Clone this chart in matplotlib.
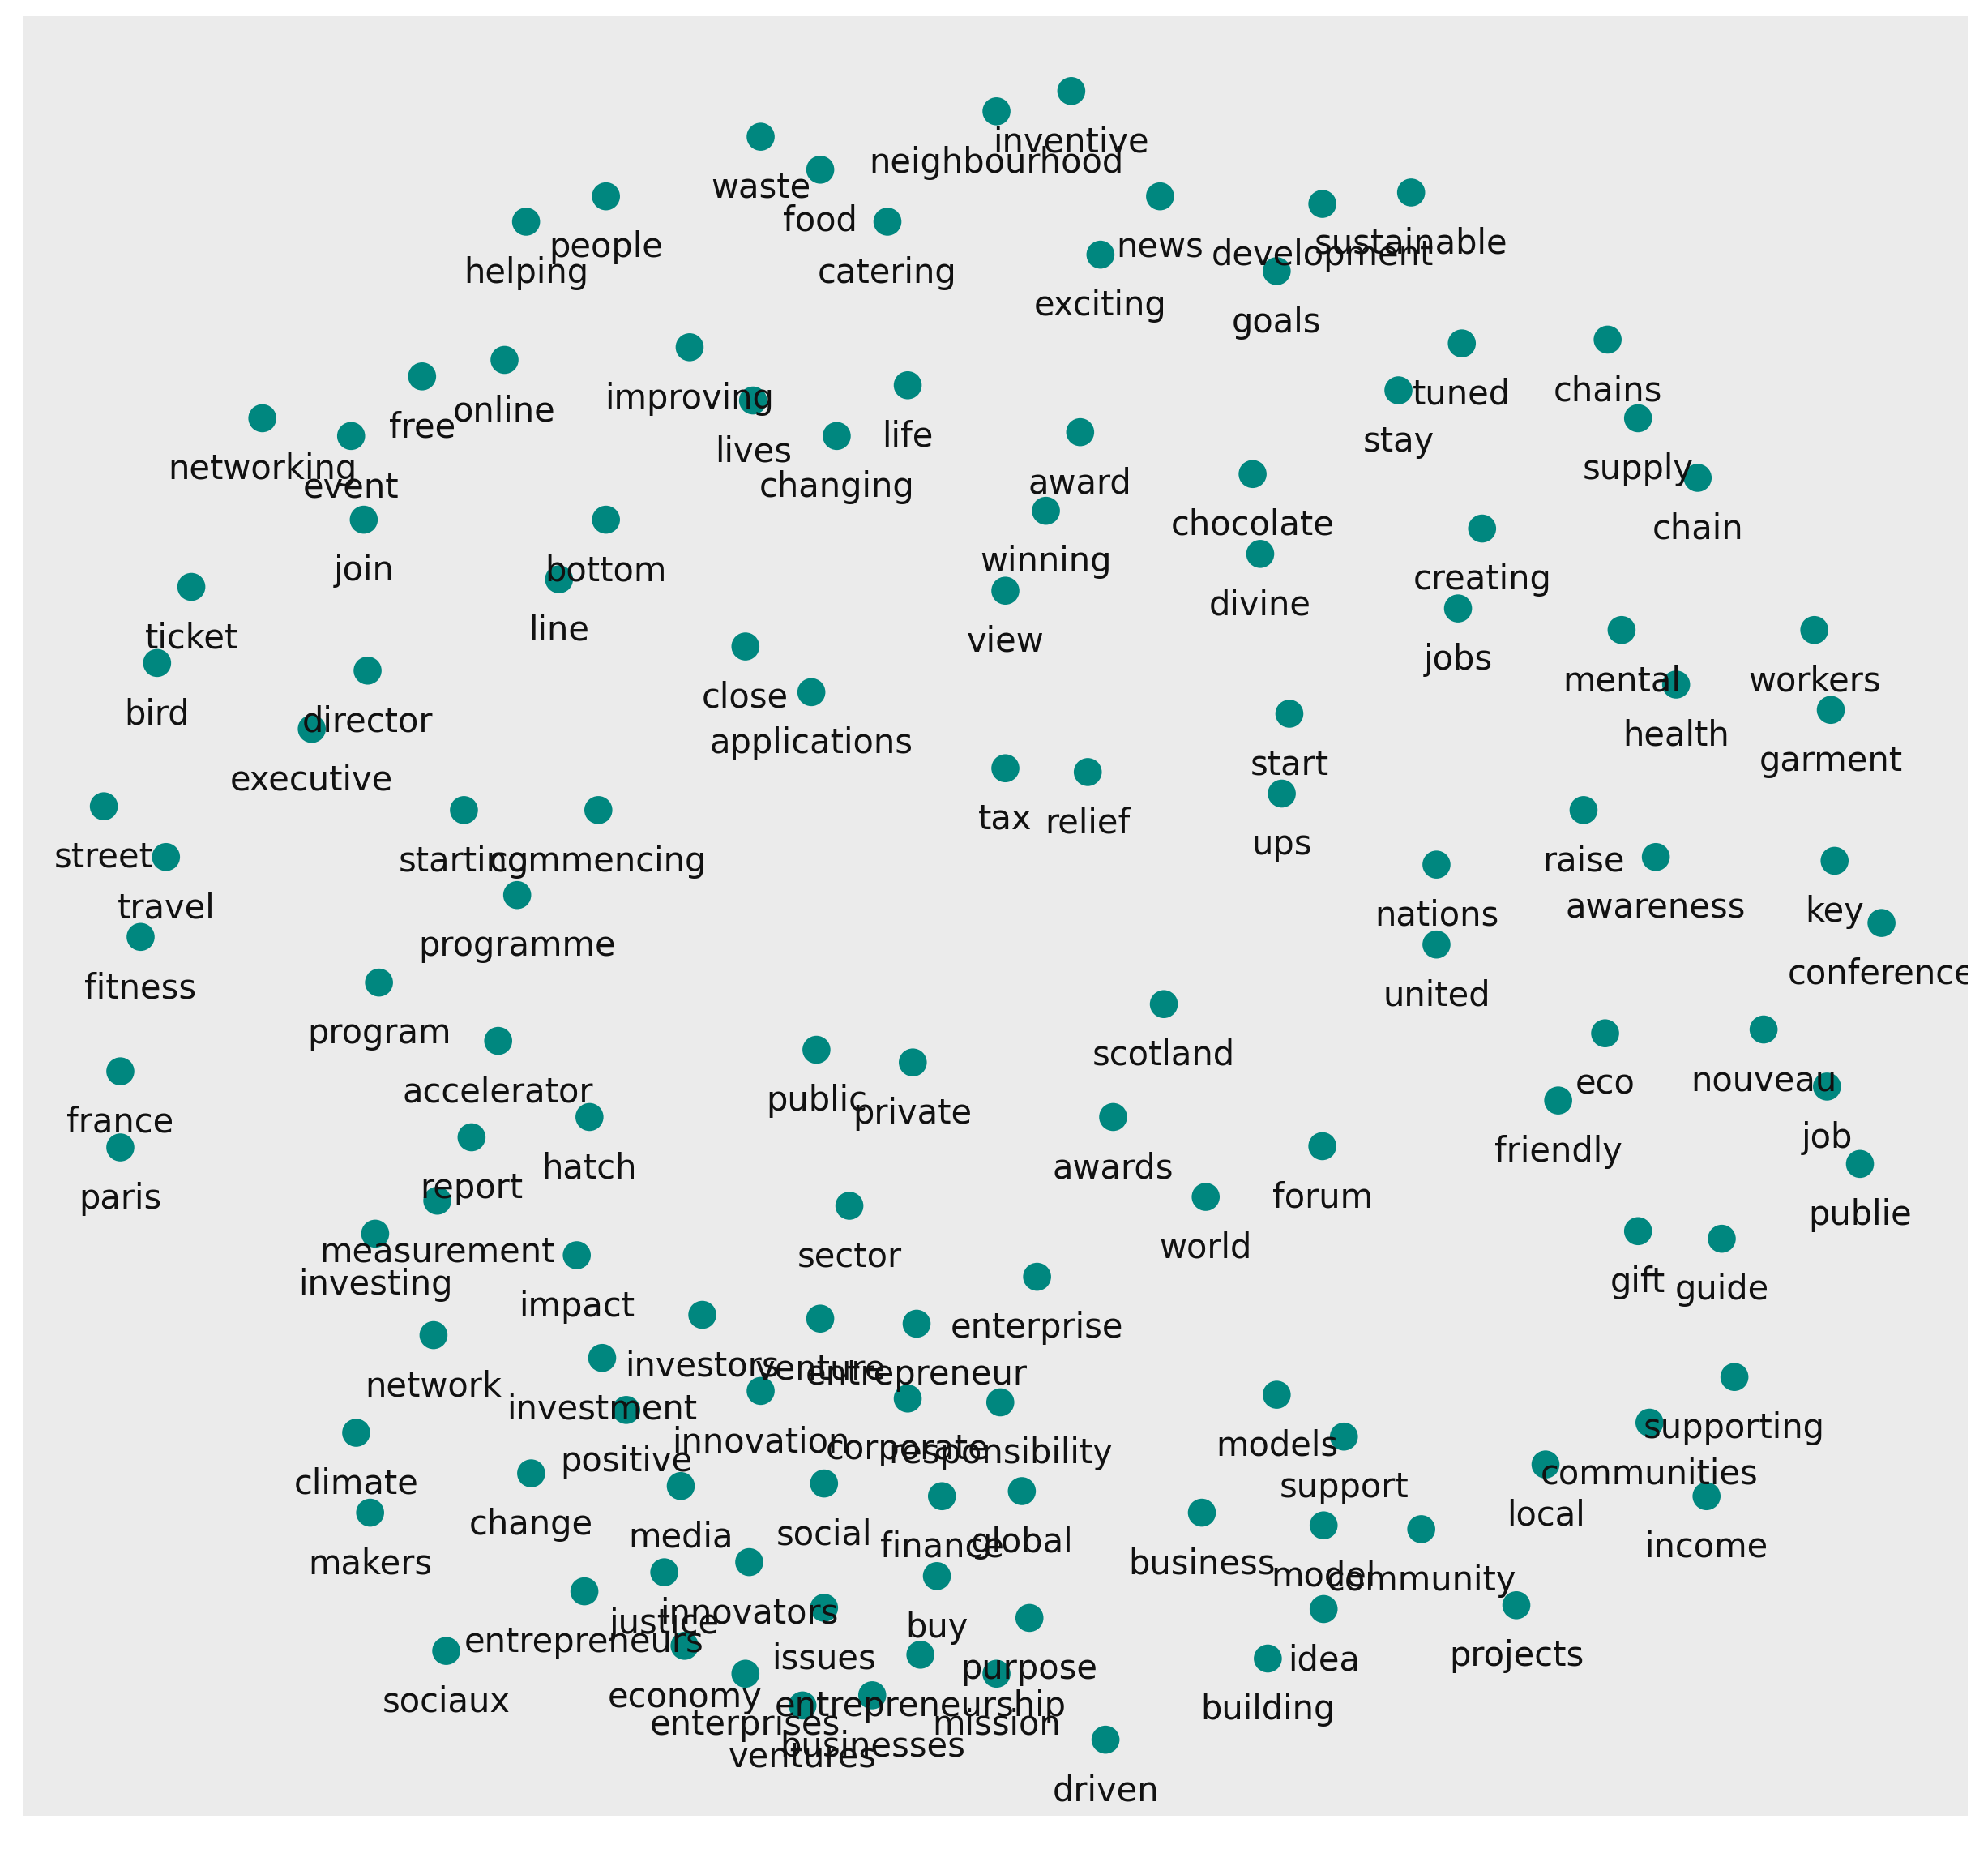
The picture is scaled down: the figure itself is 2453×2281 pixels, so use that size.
import matplotlib
matplotlib.use("Agg")
import matplotlib.pyplot as plt

words = [
    "inventive", "neighbourhood", "waste", "food", "people", "helping", "catering",
    "news", "development", "sustainable", "exciting", "goals", "improving", "tuned",
    "chains", "online", "free", "lives", "life", "stay", "supply", "networking",
    "event", "changing", "award", "chocolate", "chain", "winning", "join", "bottom",
    "divine", "creating", "line", "ticket", "view", "jobs", "mental", "workers",
    "bird", "close", "director", "health", "applications", "garment", "start",
    "executive", "tax", "relief", "street", "travel", "starting", "commencing",
    "ups", "raise", "awareness", "nations", "key", "programme", "conference",
    "fitness", "united", "program", "scotland", "eco", "nouveau", "accelerator",
    "public", "private", "france", "job", "friendly", "awards", "hatch", "report",
    "paris", "forum", "world", "publie", "sector", "measurement", "investing",
    "gift", "guide", "impact", "enterprise", "investors", "venture", "entrepreneur",
    "network", "investment", "innovation", "corporate", "responsibility",
    "positive", "climate", "communities", "supporting", "local", "income",
    "models", "support", "change", "media", "social", "finance", "global",
    "makers", "business", "model", "community", "justice", "innovators", "buy",
    "entrepreneurs", "issues", "purpose", "idea", "projects", "sociaux",
    "economy", "entrepreneurship", "building", "enterprises", "mission",
    "ventures", "businesses", "driven",
]

x_vals = [
    845, 786, 600, 647, 478, 415, 700,
    915, 1043, 1113, 868, 1007, 544, 1153,
    1268, 398, 333, 594, 716, 1103, 1292, 207,
    277, 660, 852, 988, 1339, 825, 287, 478,
    994, 1169, 441, 151, 793, 1150, 1279, 1431,
    124, 588, 290, 1322, 640, 1444, 1017,
    246, 793, 858, 82, 131, 366, 472,
    1011, 1249, 1306, 1133, 1447, 408, 1484,
    111, 1133, 299, 918, 1266, 1391, 393,
    644, 720, 95, 1441, 1229, 878, 465, 372,
    95, 1043, 951, 1467, 670, 345, 296,
    1292, 1358, 455, 818, 554, 647, 723,
    342, 475, 600, 716, 789,
    494, 281, 1301, 1368, 1219, 1346,
    1007, 1060, 419, 537, 650, 743, 806,
    292, 948, 1044, 1121, 524, 591, 739,
    461, 650, 812, 1044, 1196, 352,
    540, 726, 1000, 588, 786,
    633, 688, 872,
]

y_vals = [
    72, 88, 108, 134, 155, 175, 175,
    155, 161, 152, 201, 214, 274, 271,
    268, 284, 297, 316, 304, 308, 330, 330,
    344, 344, 341, 374, 377, 403, 410, 410,
    437, 417, 457, 463, 466, 480, 497, 497,
    523, 510, 529, 540, 546, 560, 563,
    575, 606, 609, 636, 676, 639, 639,
    626, 639, 676, 682, 679, 706, 728,
    739, 745, 775, 792, 815, 812, 821,
    828, 838, 845, 857, 868, 881, 881, 897,
    905, 904, 944, 918, 951, 947, 973,
    971, 977, 990, 1007, 1037, 1040, 1044,
    1053, 1071, 1097, 1103, 1106,
    1112, 1130, 1122, 1086, 1155, 1180,
    1100, 1133, 1162, 1172, 1170, 1180, 1176,
    1193, 1193, 1203, 1206, 1240, 1232, 1243,
    1255, 1268, 1276, 1269, 1266, 1302,
    1298, 1305, 1308, 1320, 1320,
    1345, 1337, 1372,
]

W, H, DPI = 2453, 2281, 100
fig = plt.figure(figsize=(W / DPI, H / DPI), dpi=DPI, facecolor="white")
ax = fig.add_axes([28 / W, 1 - 2240 / H, 2400 / W, 2220 / H])
ax.set_facecolor("#EBEBEB")
for s in ax.spines.values():
    s.set_visible(False)
ax.set_xticks([])
ax.set_yticks([])
ax.set_xlim(18, 1552)
ax.set_ylim(1432, 13)

ax.scatter(x_vals, y_vals, s=620, color="#00877F", edgecolors="none", zorder=2)
for w, xv, yv in zip(words, x_vals, y_vals):
    t = ax.annotate(w, (xv, yv), xytext=(0, -45.5), textcoords="offset points",
                    ha="center", va="center", fontsize=30, color="#111111",
                    family="DejaVu Sans", zorder=3, annotation_clip=False)
    t.set_clip_on(True)
    t.set_clip_box(ax.bbox)

fig.savefig("out.png", dpi=DPI, facecolor="white")
